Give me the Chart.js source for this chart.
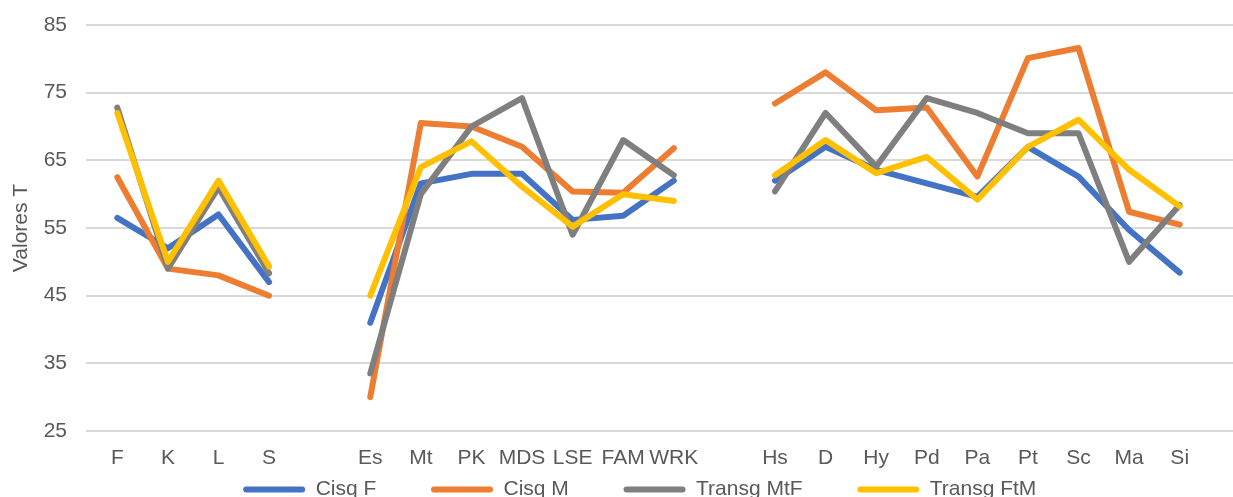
<!DOCTYPE html>
<html>
<head>
<meta charset="utf-8">
<script src="https://cdn.jsdelivr.net/npm/chart.js@4.4.1/dist/chart.umd.min.js"></script>
<style>
  html, body { margin: 0; padding: 0; background: #fff; }
  #wrap { width: 1233px; height: 497px; }
</style>
</head>
<body>
<div id="wrap"><canvas id="scaleChart"></canvas></div>
<script>
// categories (empty strings are the gaps between the scale groups)
var scaleLabels = ['F', 'K', 'L', 'S', '', 'Es', 'Mt', 'PK', 'MDS', 'LSE', 'FAM', 'WRK', '',
    'Hs', 'D', 'Hy', 'Pd', 'Pa', 'Pt', 'Sc', 'Ma', 'Si'];

// series values
var cisgF = [56.5, 52, 57, 47, null, 41, 61.6, 63, 63, 56.2, 56.8, 62, null,
    62, 67, 63.6, 61.6, 59.6, 67, 62.6, 54.7, 48.4];
var cisgM = [62.5, 49, 48, 45, null, 30, 70.5, 70, 67, 60.4, 60.2, 66.8, null,
    73.4, 78, 72.4, 72.8, 62.6, 80.1, 81.6, 57.4, 55.5];
var transgMtF = [72.8, 49, 61, 48.3, null, 33.5, 60, 70, 74.2, 54, 68, 62.8, null,
    60.4, 72, 64.1, 74.2, 72, 69, 69, 50, 58.4];
var transgFtM = [72, 50, 62, 49.3, null, 45, 64, 67.8, 61.1, 55.2, 60, 59, null,
    62.8, 68, 63.1, 65.5, 59.2, 67, 71, 63.6, 58.2];

var seriesNames = ['Cisq F', 'Cisq M', 'Transg MtF', 'Transg FtM'];

// y axis ticks
var yMin = 25;
var yMax = 85;
var yStep = 10;

var textColor = '#595959';
var gridColor = '#d9d9d9';
var fontFamily = '"Liberation Sans", Arial, sans-serif';

function lineSet(name, data, color, order) {
    return {
        label: name,
        data: data,
        borderColor: color,
        backgroundColor: color,
        borderWidth: 6,
        borderCapStyle: 'round',
        borderJoinStyle: 'round',
        pointRadius: 0,
        pointHoverRadius: 0,
        tension: 0,
        fill: false,
        spanGaps: false,
        order: order
    };
}

const ctx = document.getElementById('scaleChart');

var scaleChart = new Chart(ctx, {
    type: 'line',
    data: {
        labels: scaleLabels,
        datasets: [
            lineSet(seriesNames[0], cisgF, '#4472c4', 4),
            lineSet(seriesNames[1], cisgM, '#ed7d31', 3),
            lineSet(seriesNames[2], transgMtF, '#7f7f7f', 2),
            lineSet(seriesNames[3], transgFtM, '#ffc000', 1)
        ]
    },
    options: {
        responsive: true,
        maintainAspectRatio: false,
        animation: false,
        layout: {
            padding: { top: 25, left: 0, right: 0, bottom: 0 }
        },
        plugins: {
            tooltip: { enabled: false },
            legend: {
                position: 'bottom',
                fullSize: false,
                maxHeight: 26,
                labels: {
                    color: textColor,
                    font: { family: fontFamily, size: 21 },
                    boxWidth: 62,
                    boxHeight: 6,
                    padding: 8,
                    useBorderRadius: true,
                    borderRadius: 3,
                    sort: function (a, b) { return a.datasetIndex - b.datasetIndex; },
                    generateLabels: function (chart) {
                        var items = Chart.defaults.plugins.legend.labels.generateLabels(chart);
                        items.forEach(function (item) {
                            item.fillStyle = chart.data.datasets[item.datasetIndex].borderColor;
                            item.lineWidth = 0;
                            // spacing between legend entries (last one pads the centring)
                            if (item.datasetIndex < seriesNames.length - 1) {
                                item.text = item.text + '        ';
                            } else {
                                item.text = item.text + '   ';
                            }
                        });
                        return items;
                    }
                }
            }
        },
        scales: {
            x: {
                offset: true,
                afterFit: function (scale) { scale.height = 40; },
                grid: { display: false, drawTicks: false },
                border: { display: false },
                ticks: {
                    color: textColor,
                    font: { family: fontFamily, size: 21 },
                    padding: 15,
                    autoSkip: false,
                    maxRotation: 0
                }
            },
            y: {
                min: yMin,
                max: yMax,
                afterFit: function (scale) {
                    scale.width = 92;
                    scale.paddingTop = 0;
                    scale.paddingBottom = 0;
                },
                grid: { color: gridColor, lineWidth: 2, tickLength: 6 },
                border: { display: false },
                ticks: {
                    stepSize: yStep,
                    color: textColor,
                    font: { family: fontFamily, size: 21 },
                    padding: 19
                },
                title: {
                    display: true,
                    text: 'Valores T',
                    color: textColor,
                    font: { family: fontFamily, size: 21 },
                    padding: { top: 9, bottom: 0 }
                }
            },
            yRight: {
                position: 'right',
                min: yMin,
                max: yMax,
                afterFit: function (scale) {
                    scale.width = 28;
                    scale.paddingTop = 0;
                    scale.paddingBottom = 0;
                },
                grid: { color: gridColor, lineWidth: 2, tickLength: 28, drawOnChartArea: false },
                border: { display: false },
                ticks: { stepSize: yStep, display: false }
            }
        }
    }
});
</script>
</body>
</html>
